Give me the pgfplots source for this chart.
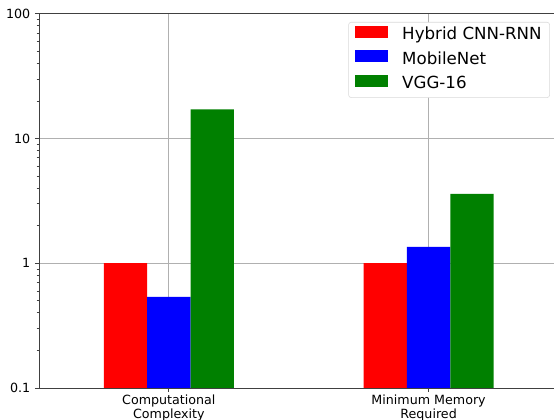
\documentclass[border=0pt]{standalone}
\usepackage{fontspec}
\setmainfont{DejaVu Sans}
\usepackage{pgfplots}
\pgfplotsset{compat=1.18}

\definecolor{gridgray}{RGB}{176,176,176}
\definecolor{mplgreen}{RGB}{0,128,0}

\pgfplotsset{
  barleg/.style={legend image code/.code={\fill[##1, sharp corners] (0pt,-1.8pt) rectangle (24.75pt,7.2pt);}},
}

\begin{document}
\begin{tikzpicture}
\begin{axis}[
    at={(0,0)}, anchor=south west,
    scale only axis,
    width=389.6pt, height=280.7pt,
    ymode=log, ymin=0.1, ymax=100, log origin=infty,
    xmin=-0.5, xmax=1.5,
    ytick={0.1,1,10,100}, yticklabels={0.1,1,10,100},
    xtick={0,1},
    xticklabels={{Computational\\Complexity},{Minimum Memory\\Required}},
    xticklabel style={align=center, yshift=1.2pt, font=\fontsize{9.5}{10.3}\selectfont},
    yticklabel style={font=\fontsize{9.5}{10.5}\selectfont},
    /pgf/number format/assume math mode=true,
    xtick pos=bottom, ytick pos=left,
    tick align=outside,
    major tick length=3pt, minor tick length=1.8pt,
    tick style={black!75, line width=0.6pt},
    axis line style={black!75, line width=0.6pt},
    grid=major,
    major grid style={gridgray, line width=0.6pt},
    ybar, bar width=0.1667,
    legend style={
      at={(1,1)}, anchor=north east, xshift=-6.4pt, yshift=-6.2pt,
      draw=black!15, rounded corners=2pt,
      font=\fontsize{12.5}{15}\selectfont,
      inner xsep=5pt, inner ysep=2.6pt, row sep=3.9pt, column sep=9.5pt,
      nodes={inner sep=1pt, text height=9.5pt, text depth=3pt},
    },
    legend cell align=left,
  ]
  \addplot[fill=red, draw=none, bar shift=-0.1667, barleg] coordinates {(0,1) (1,1)};
  \addlegendentry{Hybrid CNN-RNN}
  \addplot[fill=blue, draw=none, bar shift=0, barleg] coordinates {(0,0.537) (1,1.35)};
  \addlegendentry{MobileNet}
  \addplot[fill=mplgreen, draw=none, bar shift=0.1667, barleg] coordinates {(0,17.1) (1,3.59)};
  \addlegendentry{VGG-16}
\end{axis}
\pgfresetboundingbox
\path (-29.25pt,-24pt) rectangle (386.25pt,291pt);
\end{tikzpicture}
\end{document}
